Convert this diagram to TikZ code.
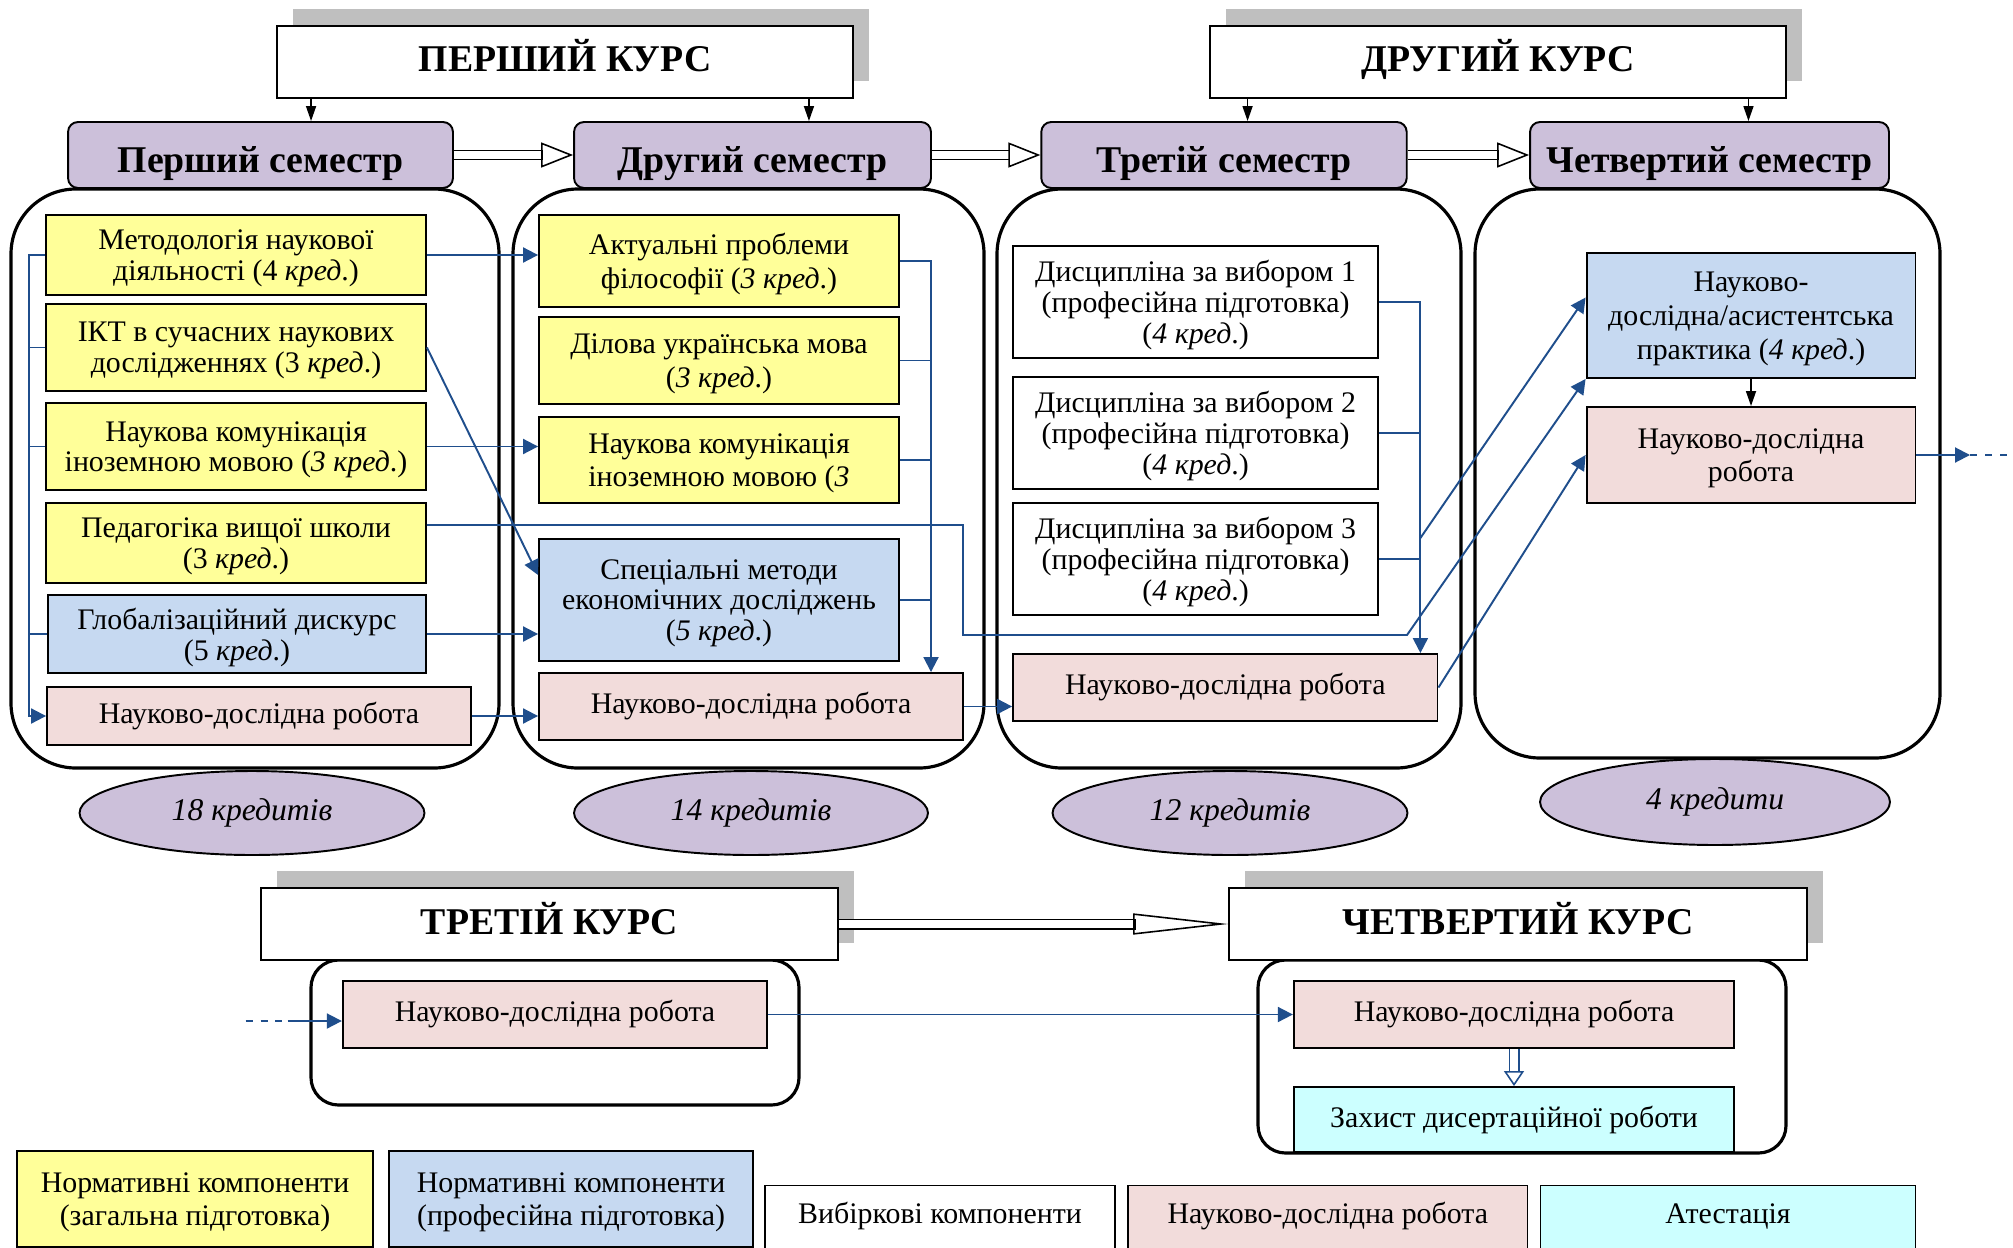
\documentclass[tikz,border=0pt]{standalone}
\usepackage{fontspec}
\setmainfont{Liberation Serif}
\usetikzlibrary{arrows.meta,shapes.geometric,shadows}
\definecolor{ylw}{HTML}{FFFF99}
\definecolor{blu}{HTML}{C6D9F1}
\definecolor{pnk}{HTML}{F2DCDB}
\definecolor{lilac}{HTML}{CCC0DA}
\definecolor{cyn}{HTML}{CCFFFF}
\definecolor{arrblue}{HTML}{1F4E8C}
\definecolor{shadowgray}{HTML}{BFBFBF}
\newcommand{\fbody}{\fontsize{17}{17.5}\selectfont}
\newcommand{\fbodyw}{\fontsize{17}{19.2}\selectfont}
\newcommand{\fhead}{\fontsize{21.5}{22}\selectfont\bfseries}
\newcommand{\fcred}{\fontsize{18}{18}\selectfont\itshape}
\def\kred{\textit{кред}}
\tikzset{
  box/.style={draw, line width=1.1pt, align=center, font=\fbody, inner sep=2pt},
  mbox/.style={box, text depth=-7.5pt},
  wbox/.style={box, font=\fbodyw, text depth=-0.5pt},
  legbox/.style={wbox, line width=0.8pt},
  legone/.style={box, line width=0.8pt, anchor=north, inner ysep=0.34cm, text height=0.42cm, text depth=1.3cm},
  sem/.style={draw, line width=1.1pt, rounded corners=0.2cm, fill=lilac, font=\fhead,
    minimum height=1.32cm, text height=0.73cm, text depth=0.03cm},
  kurs/.style={draw, line width=1.1pt, fill=white, font=\fhead, minimum height=1.44cm,
    text height=0.45cm, text depth=0.05cm,
    drop shadow={shadow xshift=0.32cm, shadow yshift=0.34cm, fill=shadowgray, opacity=1}},
  cred/.style={ellipse, draw, line width=1.1pt, fill=lilac, font=\fcred},
  frame/.style={line width=1.8pt, rounded corners=1.3cm},
  bline/.style={draw=arrblue, line width=1.1pt},
  barr/.style={bline, -{Triangle[length=0.3cm, width=0.3cm]}},
  karr/.style={line width=0.9pt, -{Triangle[length=0.3cm, width=0.2cm]}},
  hollow/.style n args={4}{
    preaction={draw=#3, -, line width=0.22cm, shorten >=#4},
    draw=white, line width=0.15cm,
    -{Triangle[open, length=#1, width=#2, line width=0.9pt, color=#3]}},
}
\begin{document}
\begin{tikzpicture}[x=0.02cm, y=-0.02cm]
  \useasboundingbox (0,0) rectangle (2013,1247);
  \clip (0,0) rectangle (2013,1247);
  \fill[white] (0,0) rectangle (2013,1247);

  %%% frames
  \draw[frame] (11,189) rectangle (499,768);
  \draw[frame] (513,189) rectangle (984,768);
  \draw[frame] (997,189) rectangle (1461,768);
  \draw[frame] (1475,189) rectangle (1940,758);
  \draw[frame, rounded corners=0.55cm] (311,960) rectangle (799,1105);
  \draw[frame, rounded corners=0.55cm] (1258,960) rectangle (1786,1153);

  %%% courses
  \node[kurs, minimum width=11.52cm] (k1) at (565,62) {ПЕРШИЙ КУРС};
  \node[kurs, minimum width=11.52cm] (k2) at (1498,62) {ДРУГИЙ КУРС};
  \node[kurs, minimum width=11.54cm] (k3) at (549.5,924) {ТРЕТІЙ КУРС};
  \node[kurs, minimum width=11.56cm] (k4) at (1518,924) {ЧЕТВЕРТИЙ КУРС};

  %%% semesters
  \node[sem, minimum width=7.7cm] (s1) at (260.5,155) {Перший семестр};
  \node[sem, minimum width=7.14cm] (s2) at (752.5,155) {Другий семестр};
  \node[sem, minimum width=7.31cm] (s3) at (1224,155) {Третій семестр};
  \node[sem, minimum width=7.18cm] (s4) at (1709.5,155) {Четвертий семестр};

  %%% first semester
  \node[mbox, fill=ylw, minimum width=7.6cm, minimum height=1.6cm] (m1) at (236,255) {Методологія наукової\\діяльності (4 \kred.)};
  \node[mbox, fill=ylw, minimum width=7.6cm, minimum height=1.74cm] (i1) at (236,347.5) {ІКТ в сучасних наукових\\дослідженнях (3 \kred.)};
  \node[mbox, fill=ylw, minimum width=7.6cm, minimum height=1.74cm] (n1) at (236,446.5) {Наукова комунікація\\іноземною мовою (\textit{3 кред}.)};
  \node[mbox, fill=ylw, minimum width=7.6cm, minimum height=1.6cm] (p1) at (236,543) {Педагогіка вищої школи\\(3 \kred.)};
  \node[mbox, fill=blu, minimum width=7.56cm, minimum height=1.56cm] (g1) at (237,634) {Глобалізаційний дискурс\\(5 \kred.)};
  \node[box, fill=pnk, minimum width=8.48cm, minimum height=1.16cm] (r1) at (259,716) {Науково-дослідна робота};

  %%% second semester
  \node[wbox, fill=ylw, minimum width=7.2cm, minimum height=1.84cm] (a2) at (719,261) {Актуальні проблеми\\філософії (\textit{3 кред}.)};
  \node[wbox, fill=ylw, minimum width=7.2cm, minimum height=1.74cm] (d2) at (719,360.5) {Ділова українська мова\\(\textit{3 кред}.)};
  \node[wbox, fill=ylw, minimum width=7.2cm, minimum height=1.72cm] (n2) at (719,460) {Наукова комунікація\\іноземною мовою (\textit{3}};
  \node[box, fill=blu, minimum width=7.2cm, minimum height=2.44cm, text depth=0pt] (x2) at (719,600) {Спеціальні методи\\економічних досліджень\\(\textit{5 кред}.)};
  \node[box, fill=pnk, minimum width=8.48cm, minimum height=1.34cm] (r2) at (751,706.5) {Науково-дослідна робота};

  %%% third semester
  \node[mbox, fill=white, minimum width=7.3cm, minimum height=2.24cm] (v1) at (1195.6,302) {Дисципліна за вибором 1\\(професійна підготовка)\\(\textit{4 кред}.)};
  \node[mbox, fill=white, minimum width=7.3cm, minimum height=2.24cm] (v2) at (1195.6,433) {Дисципліна за вибором 2\\(професійна підготовка)\\(\textit{4 кред}.)};
  \node[mbox, fill=white, minimum width=7.3cm, minimum height=2.24cm] (v3) at (1195.6,559) {Дисципліна за вибором 3\\(професійна підготовка)\\(\textit{4 кред}.)};
  \node[box, fill=pnk, minimum width=8.49cm, minimum height=1.34cm] (r3) at (1225.3,687.5) {Науково-дослідна робота};

  %%% fourth semester
  \node[wbox, fill=blu, minimum width=6.58cm, minimum height=2.5cm] (pr) at (1751,315.5) {Науково-\\дослідна/асистентська\\практика (\textit{4 кред}.)};
  \node[wbox, fill=pnk, minimum width=6.58cm, minimum height=1.92cm] (r4) at (1751,455) {Науково-дослідна\\робота};

  %%% credits
  \node[cred, minimum width=6.9cm, minimum height=1.68cm] (e1) at (252,813) {18 кредитів};
  \node[cred, minimum width=7.08cm, minimum height=1.68cm] (e2) at (751,813) {14 кредитів};
  \node[cred, minimum width=7.1cm, minimum height=1.68cm] (e3) at (1230,813) {12 кредитів};
  \node[cred, minimum width=7.0cm, minimum height=1.72cm] (e4) at (1715,802) {4 кредити};

  %%% third and fourth course
  \node[box, fill=pnk, minimum width=8.49cm, minimum height=1.34cm] (r5) at (555,1014.5) {Науково-дослідна робота};
  \node[box, fill=pnk, minimum width=8.81cm, minimum height=1.34cm] (r6) at (1514,1014.5) {Науково-дослідна робота};
  \node[box, fill=cyn, minimum width=8.81cm, minimum height=1.3cm] (z6) at (1514,1119.5) {Захист дисертаційної роботи};

  %%% legend
  \node[legbox, fill=ylw, minimum width=7.12cm, minimum height=1.92cm] (l1) at (195,1199) {Нормативні компоненти\\(загальна підготовка)};
  \node[legbox, fill=blu, minimum width=7.28cm, minimum height=1.92cm] (l2) at (571,1199) {Нормативні компоненти\\(професійна підготовка)};
  \node[legone, fill=white, minimum width=7.0cm] (l3) at (940,1185) {Вибіркові компоненти};
  \node[legone, fill=pnk, minimum width=8.0cm] (l4) at (1327.8,1185) {Науково-дослідна робота};
  \node[legone, fill=cyn, minimum width=7.5cm] (l5) at (1728,1185) {Атестація};

  %%% course -> semester
  \draw[karr] ([xshift=-5.08cm]k1.south) -- ([xshift=-5.08cm]k1.south |- s1.north);
  \draw[karr] ([xshift=4.88cm]k1.south) -- ([xshift=4.88cm]k1.south |- s2.north);
  \draw[karr] ([xshift=-5.01cm]k2.south) -- ([xshift=-5.01cm]k2.south |- s3.north);
  \draw[karr] ([xshift=5.01cm]k2.south) -- ([xshift=5.01cm]k2.south |- s4.north);

  %%% semester -> semester
  \draw[hollow={0.64cm}{0.5cm}{black}{0.6cm}] (s1.east) -- (s2.west);
  \draw[hollow={0.64cm}{0.5cm}{black}{0.6cm}] (s2.east) -- (s3.west);
  \draw[hollow={0.64cm}{0.5cm}{black}{0.6cm}] (s3.east) -- (s4.west);
  \draw[hollow={1.9cm}{0.42cm}{black}{1.85cm}] (k3.east) -- (k4.west);

  %%% first semester links
  \coordinate (bus1) at (29,255);
  \draw[barr] (m1.west) -- (m1.west -| bus1) |- (r1.west);
  \foreach \b in {i1,n1,g1}
    \draw[bline] (\b.west) -- (\b.west -| bus1);
  \draw[barr] (m1.east) -- (m1.east -| a2.west);
  \draw[barr] (i1.east) -- ([yshift=0.5cm]x2.west);
  \draw[barr] (n1.east) -- (n1.east -| n2.west);
  \draw[barr] (g1.east) -- (g1.east -| x2.west);
  \draw[barr] (r1.east) -- (r1.east -| r2.west);
  \coordinate (ped1) at (963,635);
  \coordinate (ped2) at (1407,635);
  \draw[barr] ([yshift=0.36cm]p1.east) -| (ped1) -- (ped2) -- (pr.south west);

  %%% second semester links
  \coordinate (bus2) at (931,261);
  \draw[barr] (a2.east) -- (bus2) -- (bus2 |- r2.north);
  \foreach \b in {d2,n2,x2}
    \draw[bline] (\b.east) -- (\b.east -| bus2);
  \draw[barr] (r2.east) -- (r2.east -| r3.west);

  %%% third semester links
  \coordinate (bus3) at (1420.4,302);
  \coordinate (bus3b) at (1420.4,538);
  \draw[barr] (v1.east) -- (bus3) -- (bus3 |- r3.north);
  \foreach \b in {v2,v3}
    \draw[bline] (\b.east) -- (\b.east -| bus3);
  \draw[barr] (bus3b) -- ([yshift=0.36cm]pr.west);
  \draw[barr] (r3.east) -- (r4.west);

  %%% fourth semester links
  \draw[karr] (pr.south) -- (r4.north);
  \coordinate (out4) at (1970,455);
  \coordinate (edge4) at (2013,455);
  \draw[barr] (r4.east) -- (out4);
  \draw[bline, dash pattern=on 0.14cm off 0.16cm] (out4) -- (edge4);

  %%% third -> fourth course
  \coordinate (in5) at (245.5,1021);
  \coordinate (in5b) at (287.5,1021);
  \draw[bline, dash pattern=on 0.14cm off 0.16cm] (in5) -- (in5b);
  \draw[barr] (in5b) -- (in5b -| r5.west);
  \draw[barr] (r5.east) -- (r6.west);
  \draw[hollow={0.3cm}{0.4cm}{arrblue}{0.28cm}] (r6.south) -- (z6.north);
\end{tikzpicture}
\end{document}
